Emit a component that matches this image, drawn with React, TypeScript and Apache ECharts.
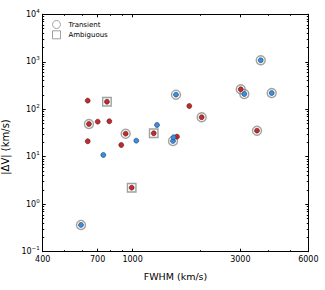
import React, { useEffect, useRef } from "react";
import * as echarts from "echarts";

// FWHM (km/s) and |ΔV| (km/s) for each object
const fwhm = [591, 633, 641, 633, 701, 742, 770, 789, 891, 932, 991, 1039, 1241, 1283, 1510, 1520, 1573, 1557, 1783, 2023, 3013, 3125, 3694, 3556, 4131];
const deltaV = [0.366, 152, 49, 21.2, 54.8, 10.9, 144, 55.9, 17.7, 30.6, 2.23, 21.8, 31.2, 46.7, 21.5, 25.7, 26.5, 203, 117, 67.9, 264, 210, 1076, 35.4, 220];
const colorGroup = ["blue", "red", "red", "red", "red", "blue", "red", "red", "red", "red", "red", "blue", "red", "blue", "blue", "blue", "red", "blue", "red", "red", "red", "blue", "blue", "red", "blue"];
const status = ["transient", "none", "transient", "none", "none", "none", "ambiguous", "none", "none", "transient", "ambiguous", "none", "ambiguous", "none", "transient", "none", "none", "transient", "none", "transient", "transient", "transient", "transient", "transient", "transient"];

const xMajorTicks = [400, 700, 1000, 3000, 6000];
const xMinorTicks = [500, 600, 800, 900, 2000, 4000, 5000];
const yMinorTicks = [0.2, 0.3, 0.4, 0.5, 0.6, 0.7, 0.8, 0.9, 2, 3, 4, 5, 6, 7, 8, 9, 20, 30, 40, 50, 60, 70, 80, 90, 200, 300, 400, 500, 600, 700, 800, 900, 2000, 3000, 4000, 5000, 6000, 7000, 8000, 9000];

const FONT = "DejaVu Sans";

export default function App() {
  const ref = useRef<HTMLDivElement>(null);
  useEffect(() => {
    if (!ref.current) return;
    const chart = echarts.init(ref.current, undefined, { renderer: "svg" });
    const pts = fwhm.map((f, i) => ({ f, v: deltaV[i], c: colorGroup[i], s: status[i] }));
    const sel = (pred: (p: any) => boolean) => pts.filter(pred).map((p) => [p.f, p.v]);

    const axisLine = { show: true, lineStyle: { color: "#000", width: 1 } };
    const baseX = { type: "log", logBase: 10, min: 400, max: 6000, splitLine: { show: false }, axisLine };
    const baseY = { type: "log", logBase: 10, min: 0.1, max: 10000, splitLine: { show: false }, axisLine };

    const supFmt = (v: number) => {
      const e = Math.round(Math.log10(v));
      return "10{sup|" + (e < 0 ? "\u2212" + -e : String(e)) + "}";
    };

    chart.setOption({
      animation: false,
      grid: { left: 42.7, right: 16.7, top: 14.3, bottom: 38.3, containLabel: false, outerBoundsMode: "none" },
      legend: {
        orient: "vertical",
        left: 52,
        top: 20,
        padding: 0,
        itemWidth: 8,
        itemHeight: 8,
        itemGap: 1.3,
        textStyle: { fontFamily: FONT, fontSize: 7, color: "#000", padding: [0, 0, 0, 3] },
        data: [
          { name: "Transient", icon: "circle", itemStyle: { color: "#fff", borderColor: "#888", borderWidth: 1 } },
          { name: "Ambiguous", icon: "rect", itemStyle: { color: "#fff", borderColor: "#888", borderWidth: 1 } },
        ],
      },
      xAxis: [
        {
          ...baseX,
          position: "bottom",
          name: "FWHM (km/s)",
          nameLocation: "middle",
          nameGap: 20,
          nameTextStyle: { fontFamily: FONT, fontSize: 9.5, color: "#000" },
          axisTick: { show: true, inside: true, length: 3, customValues: xMajorTicks, lineStyle: { color: "#000" } },
          axisLabel: { customValues: xMajorTicks, fontFamily: FONT, fontSize: 8, color: "#000", margin: 4, formatter: (v: number) => String(Math.round(v)) },
        },
        {
          ...baseX,
          position: "bottom",
          axisTick: { show: true, inside: true, length: 1.5, customValues: xMinorTicks, lineStyle: { color: "#000" } },
          axisLabel: { show: false },
        },
        {
          ...baseX,
          position: "top",
          axisTick: { show: true, inside: true, length: 3, customValues: xMajorTicks, lineStyle: { color: "#000" } },
          axisLabel: { show: false },
        },
        {
          ...baseX,
          position: "top",
          axisTick: { show: true, inside: true, length: 1.5, customValues: xMinorTicks, lineStyle: { color: "#000" } },
          axisLabel: { show: false },
        },
      ],
      yAxis: [
        {
          ...baseY,
          position: "left",
          name: "|\u0394V| (km/s)",
          nameLocation: "middle",
          nameRotate: 90,
          nameGap: 15,
          nameTextStyle: { fontFamily: FONT, fontSize: 10, color: "#000", padding: [0, 28, 0, 0] },
          axisTick: { show: true, inside: true, length: 3, lineStyle: { color: "#000" } },
          axisLabel: {
            fontFamily: FONT,
            fontSize: 8,
            color: "#000",
            margin: 3,
            formatter: supFmt,
            rich: { sup: { fontFamily: FONT, fontSize: 5.5, color: "#000", verticalAlign: "bottom", padding: [0, 0, 7, 0] } },
          },
        },
        {
          ...baseY,
          position: "left",
          axisTick: { show: true, inside: true, length: 1.5, customValues: yMinorTicks, lineStyle: { color: "#000" } },
          axisLabel: { show: false },
        },
        {
          ...baseY,
          position: "right",
          axisTick: { show: true, inside: true, length: 3, lineStyle: { color: "#000" } },
          axisLabel: { show: false },
        },
        {
          ...baseY,
          position: "right",
          axisTick: { show: true, inside: true, length: 1.5, customValues: yMinorTicks, lineStyle: { color: "#000" } },
          axisLabel: { show: false },
        },
      ],
      series: [
        {
          name: "Transient",
          type: "scatter",
          symbol: "circle",
          symbolSize: 9,
          itemStyle: { color: "rgba(255,255,255,0)", borderColor: "#8a8a8a", borderWidth: 1.4 },
          data: sel((p) => p.s === "transient"),
          z: 2,
        },
        {
          name: "Ambiguous",
          type: "scatter",
          symbol: "rect",
          symbolSize: 8.5,
          itemStyle: { color: "rgba(255,255,255,0)", borderColor: "#8a8a8a", borderWidth: 1.4 },
          data: sel((p) => p.s === "ambiguous"),
          z: 2,
        },
        {
          name: "red",
          type: "scatter",
          symbol: "circle",
          symbolSize: 5,
          itemStyle: { color: "#c4292b", borderColor: "#3a1010", borderWidth: 0.5, opacity: 1 },
          data: sel((p) => p.c === "red"),
          z: 3,
        },
        {
          name: "blue",
          type: "scatter",
          symbol: "circle",
          symbolSize: 5,
          itemStyle: { color: "#3a8de0", borderColor: "#102a44", borderWidth: 0.5, opacity: 1 },
          data: sel((p) => p.c === "blue"),
          z: 3,
        },
      ],
    });
    return () => chart.dispose();
  }, []);
  return <div ref={ref} style={{ position: "fixed", left: 0, top: 0, width: 325, height: 290, background: "#fff" }} />;
}
